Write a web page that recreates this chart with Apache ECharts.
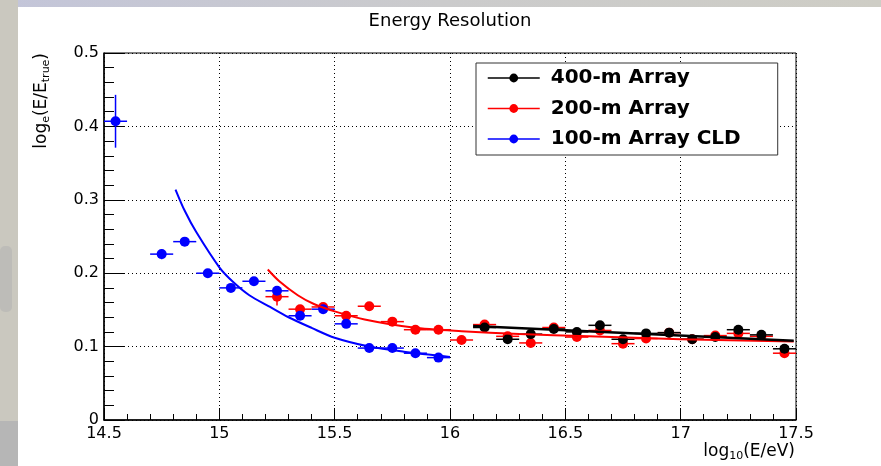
<!DOCTYPE html>
<html>
<head>
<meta charset="utf-8">
<script src="https://cdn.jsdelivr.net/npm/echarts@6/dist/echarts.min.js"></script>
<style>
html,body{margin:0;padding:0;background:#fff;}
#chart{width:881px;height:466px;}
</style>
</head>
<body>
<div id="chart"></div>
<script>
// ---------- data ----------
const xTicks = [14.5, 15, 15.5, 16, 16.5, 17, 17.5];
const yTicks = [0, 0.1, 0.2, 0.3, 0.4, 0.5];
const binHalfWidth = 0.05;

const x400 = [16.15,16.25,16.35,16.45,16.55,16.65,16.75,16.85,16.95,17.05,17.15,17.25,17.35,17.45];
const y400 = [0.126,0.110,0.117,0.124,0.120,0.129,0.110,0.118,0.119,0.110,0.113,0.123,0.116,0.097];
const e400 = [0.004,0.004,0.004,0.004,0.004,0.004,0.004,0.004,0.004,0.004,0.004,0.004,0.004,0.004];

const x200 = [15.25,15.35,15.45,15.55,15.65,15.75,15.85,15.95,16.05,16.15,16.25,16.35,16.45,16.55,16.65,16.75,16.85,16.95,17.05,17.15,17.25,17.35,17.45];
const y200 = [0.168,0.151,0.154,0.142,0.155,0.134,0.123,0.123,0.109,0.130,0.114,0.105,0.126,0.113,0.122,0.104,0.111,0.119,0.110,0.115,0.118,0.114,0.091];
const e200 = [0.012,0.005,0.005,0.005,0.005,0.004,0.004,0.004,0.004,0.004,0.004,0.004,0.004,0.004,0.004,0.004,0.004,0.004,0.004,0.004,0.004,0.004,0.004];

const x100 = [14.55,14.75,14.85,14.95,15.05,15.15,15.25,15.35,15.45,15.55,15.65,15.75,15.85,15.95];
const y100 = [0.407,0.226,0.243,0.200,0.180,0.189,0.176,0.142,0.151,0.131,0.098,0.098,0.091,0.085];
const e100 = [0.036,0.007,0.005,0.005,0.005,0.005,0.005,0.005,0.005,0.005,0.004,0.004,0.004,0.004];

// fitted curves
const fit400X = [16.10, 17.49];
const fit400Y = [0.128, 0.108];
const fit200X = [15.21,15.26,15.34,15.41,15.50,15.63,15.84,16.05,16.30,16.60,17.00,17.49];
const fit200Y = [0.205,0.189,0.170,0.158,0.148,0.137,0.126,0.121,0.117,0.114,0.110,0.107];
const fit100X = [14.81,14.85,14.90,15.00,15.06,15.13,15.22,15.30,15.40,15.50,15.65,15.80,16.00];
const fit100Y = [0.314,0.285,0.256,0.208,0.188,0.170,0.154,0.140,0.1255,0.112,0.100,0.093,0.086];

const names = ['400-m Array', '200-m Array', '100-m Array CLD'];
const colors = ['#000000', '#ff0000', '#0000ff'];

// ---------- build ----------
const FONT = 'DejaVu Sans';
const zip = (a, b) => a.map((v, i) => [v, b[i]]);
const errData = (xs, ys, es) => xs.map((v, i) => [v, ys[i], binHalfWidth, es[i]]);

function errRender(params, api) {
  const x = api.value(0), y = api.value(1), ex = api.value(2), ey = api.value(3);
  const l = api.coord([x - ex, y]), r = api.coord([x + ex, y]);
  const t = api.coord([x, y + ey]), b = api.coord([x, y - ey]);
  const style = { stroke: api.visual('color'), lineWidth: 1.5 };
  return {
    type: 'group',
    children: [
      { type: 'line', shape: { x1: l[0], y1: l[1], x2: r[0], y2: r[1] }, style: style },
      { type: 'line', shape: { x1: t[0], y1: t[1], x2: b[0], y2: b[1] }, style: style }
    ]
  };
}

function pointSeries(name, color, xs, ys) {
  return {
    name: name, type: 'line', data: zip(xs, ys),
    symbol: 'circle', symbolSize: 10, showSymbol: true,
    itemStyle: { color: color },
    lineStyle: { color: color, width: 1.5, opacity: 0 },
    emphasis: { disabled: true }, animation: false, z: 4
  };
}
function errSeries(color, xs, ys, es) {
  return {
    type: 'custom', renderItem: errRender, data: errData(xs, ys, es),
    itemStyle: { color: color }, animation: false, z: 3, silent: true
  };
}
function fitSeries(color, xs, ys, w) {
  return {
    type: 'line', data: zip(xs, ys), showSymbol: false, smooth: 0.3,
    lineStyle: { color: color, width: w }, itemStyle: { color: color },
    emphasis: { disabled: true }, animation: false, z: 5, silent: true
  };
}

const chart = echarts.init(document.getElementById('chart'), null, { renderer: 'canvas' });

const dottedSplit = { show: true, lineStyle: { color: '#000', width: 1, type: [1, 3] } };

chart.setOption({
  backgroundColor: '#ffffff',
  animation: false,
  title: {
    text: 'Energy Resolution', left: 450, top: 12, textAlign: 'center', padding: 0,
    textStyle: { fontFamily: FONT, fontSize: 18, fontWeight: 'normal', color: '#000' }
  },
  grid: { left: 104, right: 85, top: 53, bottom: 46, show: true, borderColor: '#000', borderWidth: 1, backgroundColor: 'transparent' },
  legend: {
    data: names, orient: 'vertical', left: 476, top: 63,
    padding: [3, 37, 4, 11], itemGap: 6.5, itemWidth: 52, itemHeight: 11,
    selectedMode: false, borderColor: '#333', borderWidth: 1, backgroundColor: '#fff',
    lineStyle: { width: 1.5, opacity: 1 },
    textStyle: { fontFamily: FONT, fontSize: 20, fontWeight: 'bold', color: '#000', lineHeight: 24, padding: [0, 0, 0, 6] }
  },
  xAxis: {
    type: 'value', min: xTicks[0], max: xTicks[xTicks.length - 1], interval: xTicks[1] - xTicks[0],
    axisLine: { show: true, onZero: false, lineStyle: { color: '#000', width: 1.5 } },
    axisTick: { show: true, inside: true, length: 12, lineStyle: { color: '#000', width: 1 } },
    minorTick: { show: true, splitNumber: 5, length: 6, lineStyle: { color: '#000', width: 1 } },
    splitLine: dottedSplit,
    axisLabel: { fontFamily: FONT, fontSize: 16, color: '#000', margin: 6, formatter: v => String(+v.toFixed(1)) }
  },
  yAxis: {
    type: 'value', min: yTicks[0], max: yTicks[yTicks.length - 1], interval: yTicks[1] - yTicks[0],
    axisLine: { show: true, onZero: false, lineStyle: { color: '#000', width: 1.5 } },
    axisTick: { show: true, inside: true, length: 20, lineStyle: { color: '#000', width: 1 } },
    minorTick: { show: true, splitNumber: 5, length: 10, lineStyle: { color: '#000', width: 1 } },
    splitLine: dottedSplit,
    axisLabel: { fontFamily: FONT, fontSize: 16, color: '#000', margin: 5, formatter: v => String(+v.toFixed(1)) }
  },
  graphic: [
    { type: 'rect', left: 0, top: 0, z: -10, shape: { width: 881, height: 7 },
      style: { fill: new echarts.graphic.LinearGradient(0, 0, 1, 0, [{ offset: 0, color: '#c3c5d9' }, { offset: 0.5, color: '#cbcbcc' }, { offset: 1, color: '#cecdc5' }]) } },
    { type: 'rect', left: 0, top: 0, z: -10, shape: { width: 18, height: 466 }, style: { fill: '#cac8bf' } },
    { type: 'rect', left: 0, top: 246, z: -9, shape: { width: 12, height: 66, r: 5 }, style: { fill: '#bdbcb8' } },
    { type: 'rect', left: 0, top: 421, z: -9, shape: { width: 18, height: 45 }, style: { fill: '#b6b6b6' } },
    {
      type: 'text', x: 42, y: 53, rotation: Math.PI / 2, z: 10,
      style: {
        text: '{m|log}{s|e}{m|(E/E}{s|true}{m|)}', align: 'right', verticalAlign: 'middle',
        rich: {
          m: { fontFamily: FONT, fontSize: 17, fill: '#000', lineHeight: 20, verticalAlign: 'middle' },
          s: { fontFamily: FONT, fontSize: 11, fill: '#000', lineHeight: 11, padding: [12, 0, 0, 0], verticalAlign: 'bottom' }
        }
      }
    },
    {
      type: 'text', x: 795, y: 452, z: 10,
      style: {
        text: '{m|log}{s|10}{m|(E/eV)}', align: 'right', verticalAlign: 'middle',
        rich: {
          m: { fontFamily: FONT, fontSize: 17, fill: '#000', lineHeight: 20, verticalAlign: 'middle' },
          s: { fontFamily: FONT, fontSize: 11, fill: '#000', lineHeight: 11, padding: [12, 0, 0, 0], verticalAlign: 'bottom' }
        }
      }
    }
  ],
  series: [
    errSeries(colors[1], x200, y200, e200),
    pointSeries(names[1], colors[1], x200, y200),
    errSeries(colors[0], x400, y400, e400),
    pointSeries(names[0], colors[0], x400, y400),
    errSeries(colors[2], x100, y100, e100),
    pointSeries(names[2], colors[2], x100, y100),
    fitSeries(colors[1], fit200X, fit200Y, 2),
    fitSeries(colors[0], fit400X, fit400Y, 2.5),
    fitSeries(colors[2], fit100X, fit100Y, 2)
  ]
});
</script>
</body>
</html>
